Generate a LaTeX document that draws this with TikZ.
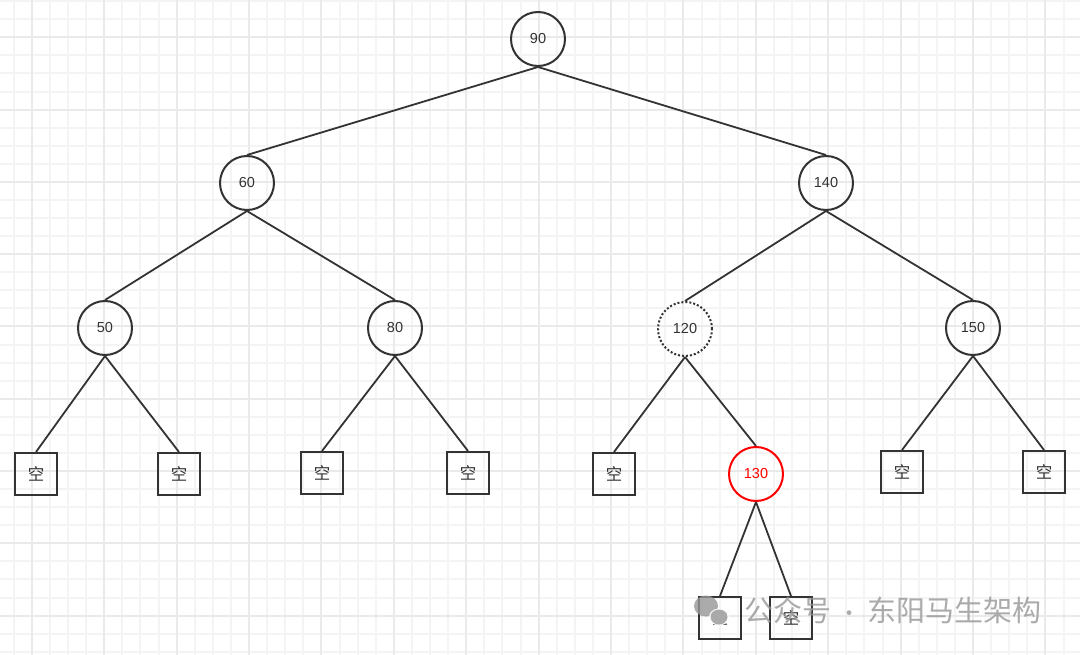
\documentclass[tikz,border=0pt]{standalone}
\usepackage{fontspec}
\setmainfont{Liberation Sans}
\newfontfamily\cjk{Noto Sans CJK SC}
\definecolor{minorgrid}{RGB}{244,244,244}
\definecolor{majorgrid}{RGB}{234,234,234}
\definecolor{edgecol}{RGB}{51,51,51}
\definecolor{wm}{RGB}{150,150,150}
\tikzset{
  treenode/.style={circle,draw=edgecol,line width=2pt,minimum size=54pt,inner sep=0pt,font=\fontsize{14.5}{15}\selectfont,text=edgecol},
  nullbox/.style={rectangle,draw=edgecol,line width=2pt,minimum size=42pt,inner sep=0pt,font=\cjk\fontsize{16.5}{17}\selectfont,text=edgecol},
  link/.style={draw=edgecol,line width=1.8pt},
  minorline/.style={draw=minorgrid,line width=1.3pt},
  majorline/.style={draw=majorgrid,line width=1.8pt}
}
\begin{document}
\begin{tikzpicture}[x=1pt,y=-1pt]
\useasboundingbox (0,0) rectangle (1080,655);
\fill[white] (0,0) rectangle (1080,655);
% grid
\foreach \i in {0,...,60} { \pgfmathsetmacro{\gx}{int(-3.9+18.1*\i)} \draw[minorline] (\gx,0) -- (\gx,655); }
\foreach \i in {0,...,37} { \pgfmathsetmacro{\gy}{int(1.7+18.07*\i)} \draw[minorline] (0,\gy) -- (1080,\gy); }
\foreach \i in {0,...,14} { \pgfmathsetmacro{\gx}{int(32.3+72.4*\i)} \draw[majorline] (\gx,0) -- (\gx,655); }
\foreach \i in {0,...,8} { \pgfmathsetmacro{\gy}{int(37.7+72.3*\i)} \draw[majorline] (0,\gy) -- (1080,\gy); }
% nodes
\node[treenode] (n90) at (538,39) {90};
\node[treenode] (n60) at (247,183) {60};
\node[treenode] (n140) at (826,183) {140};
\node[treenode] (n50) at (105,328) {50};
\node[treenode] (n80) at (395,328) {80};
\node[treenode,dotted] (n120) at (685,329) {120};
\node[treenode] (n150) at (973,328) {150};
\node[treenode,draw=red,text=red] (n130) at (756,474) {130};
\node[nullbox] (e1) at (36,474) {空};
\node[nullbox] (e2) at (179,474) {空};
\node[nullbox] (e3) at (322,473) {空};
\node[nullbox] (e4) at (468,473) {空};
\node[nullbox] (e5) at (614,474) {空};
\node[nullbox] (e6) at (902,472) {空};
\node[nullbox] (e7) at (1044,472) {空};
\node[nullbox] (e8) at (720,618) {空};
\node[nullbox] (e9) at (791,618) {空};
% edges
\draw[link] (n90.south) -- (n60.north);
\draw[link] (n90.south) -- (n140.north);
\draw[link] (n60.south) -- (n50.north);
\draw[link] (n60.south) -- (n80.north);
\draw[link] (n140.south) -- (n120.north);
\draw[link] (n140.south) -- (n150.north);
\draw[link] (n50.south) -- (e1.north);
\draw[link] (n50.south) -- (e2.north);
\draw[link] (n80.south) -- (e3.north);
\draw[link] (n80.south) -- (e4.north);
\draw[link] (n120.south) -- (e5.north);
\draw[link] (n120.south) -- (n130.north);
\draw[link] (n150.south) -- (e6.north);
\draw[link] (n150.south) -- (e7.north);
\draw[link] (n130.south) -- (e8.north);
\draw[link] (n130.south) -- (e9.north);
% watermark
\fill[wm,opacity=0.8] (706,606) ellipse (12pt and 10.5pt);
\fill[white,opacity=0.9] (719,617) ellipse (10pt and 8.5pt);
\fill[wm,opacity=0.8] (719,617) ellipse (8.5pt and 7.5pt);
\node[anchor=west,text=wm,text opacity=0.8,font=\cjk\fontsize{29}{30}\selectfont,inner sep=0pt] (wmtext) at (744,610) {公众号\hspace{7pt}{\fontsize{22}{22}\selectfont·}\hspace{7pt}东阳马生架构};
\end{tikzpicture}
\end{document}
